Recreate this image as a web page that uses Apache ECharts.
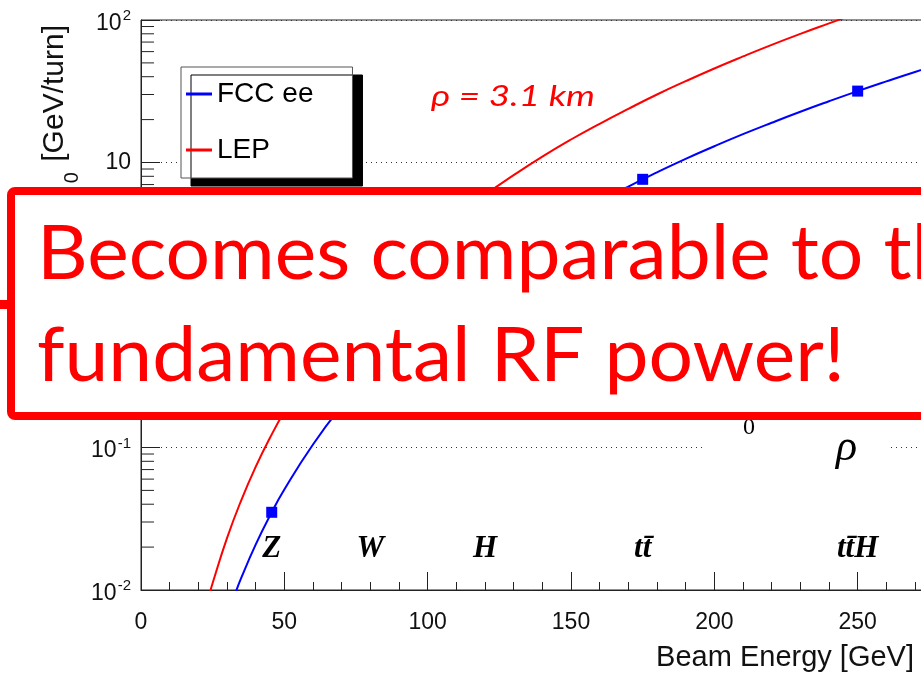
<!DOCTYPE html>
<html><head><meta charset="utf-8">
<script src="https://cdn.jsdelivr.net/npm/echarts@6/dist/echarts.min.js"></script>
<style>html,body{margin:0;padding:0;background:#fff}#c{width:921px;height:676px}</style>
</head><body><div id="c"></div>
<script>
// ---- data ----
const lepEnergy = [24, 25, 30, 35, 40, 45, 50, 60, 70, 80, 90, 100, 110, 120, 130, 140, 150, 160, 170, 180, 190, 200, 210, 220, 230, 240, 250];
const lepLoss   = [0.0095, 0.0112, 0.0231, 0.0428, 0.0731, 0.117, 0.178, 0.370, 0.685, 1.17, 1.87, 2.85, 4.18, 5.92, 8.15, 11.0, 14.5, 18.7, 23.8, 30.0, 37.2, 45.7, 55.5, 66.9, 79.9, 94.7, 112];
const fccEnergy = [33, 35, 40, 45, 50, 60, 70, 80, 90, 100, 110, 120, 130, 140, 150, 160, 170, 180, 190, 200, 210, 220, 230, 240, 250, 260, 270, 280, 290, 300];
const fccLoss   = [0.0096, 0.0122, 0.0208, 0.0333, 0.0507, 0.105, 0.195, 0.333, 0.533, 0.812, 1.19, 1.68, 2.32, 3.12, 4.11, 5.32, 6.78, 8.52, 10.6, 13.0, 15.8, 19.0, 22.7, 26.9, 31.7, 37.1, 43.2, 49.9, 57.4, 65.8];
const markerEnergy = [45.6, 80, 120, 175, 250];
const markerLoss   = [0.0351, 0.333, 1.68, 7.62, 31.7];
const processNames = ['Z', 'W', 'H', 't t\u0304', 't t\u0304H'];
const processEnergy = [45.6, 80, 120, 175, 250];
const processLabelLoss = 0.0193;
const yTickValues = [0.01, 0.1, 1, 10, 100];
const yTickBase   = ['10', '10', '1', '10', '10'];
const yTickExp    = ['-2', '-1', '', '', '2'];
const yMinorTicks = [0.02,0.03,0.04,0.05,0.06,0.07,0.08,0.09, 0.2,0.3,0.4,0.5,0.6,0.7,0.8,0.9, 2,3,4,5,6,7,8,9, 20,30,40,50,60,70,80,90];
const seriesNames = ['FCC ee', 'LEP'];
const calloutLines = ['Becomes comparable to the', 'fundamental RF power!'];
const radiusText = '\u03c1 = 3.1 km';

const mctx = document.createElement('canvas').getContext('2d');
function fit(text, font, target) { mctx.font = font; return target / mctx.measureText(text).width; }

const boxFont = '76px Lato';
const boxScale = fit(calloutLines[1], boxFont, 808);
const rhoFont = 'italic 29px Lato';
const rhoScale = fit(radiusText, rhoFont, 164);

const chart = echarts.init(document.getElementById('c'), null, {renderer: 'canvas'});

function yLabel(v) {
  const lv = Math.log10(v);
  const i = yTickValues.findIndex(t => Math.abs(Math.log10(t) - lv) < 1e-6);
  if (i < 0) return '';
  if (yTickExp[i] === '') return '{p|' + yTickBase[i] + '}';
  return '{b|' + yTickBase[i] + '}{s|' + yTickExp[i] + '}';
}

const option = {
  animation: false,
  backgroundColor: '#fff',
  grid: {left: 141, top: 20, width: 860, height: 570, show: true, borderColor: '#222', borderWidth: 1,
         containLabel: false, outerBoundsMode: 'none'},
  legend: {
    orient: 'vertical', left: 181, top: 67,
    data: seriesNames,
    icon: 'rect', itemWidth: 26, itemHeight: 3, itemGap: 28,
    padding: [13, 39, 14, 5],
    backgroundColor: '#fff', borderColor: '#555', borderWidth: 1,
    shadowColor: '#000', shadowBlur: 0, shadowOffsetX: 10, shadowOffsetY: 8,
    textStyle: {fontFamily: 'Liberation Sans', fontSize: 28, color: '#000'},
    selectedMode: false, z: 20
  },
  xAxis: {
    type: 'value', min: 0, max: 300, interval: 50,
    axisLine: {lineStyle: {color: '#222', width: 1}},
    axisTick: {inside: true, length: 18, lineStyle: {color: '#222'}},
    minorTick: {show: true, splitNumber: 5, length: 8, lineStyle: {color: '#222'}},
    axisLabel: {fontFamily: 'Liberation Sans', fontSize: 23, color: '#111', margin: 21},
    splitLine: {show: false}
  },
  yAxis: {
    type: 'log', logBase: 10, min: 0.01, max: 100,
    axisLine: {show: true, lineStyle: {color: '#222', width: 1}},
    axisTick: {show: true, inside: true, length: 19, lineStyle: {color: '#222'}},
    minorTick: {show: false},
    axisLabel: {
      margin: 10, formatter: yLabel,
      rich: {
        p: {fontFamily: 'Liberation Sans', fontSize: 23, color: '#111'},
        b: {fontFamily: 'Liberation Sans', fontSize: 23, color: '#111', lineHeight: 18, padding: [7, 0, 0, 0]},
        s: {fontFamily: 'Liberation Sans', fontSize: 15, color: '#111', lineHeight: 12, padding: [0, 0, 8, 1]}
      }
    },
    splitLine: {show: true, lineStyle: {color: '#333', width: 1, type: [1, 4]}}
  },
  series: [
    {name: seriesNames[0], type: 'line', data: fccEnergy.map((e, i) => [e, fccLoss[i]]),
     showSymbol: false, smooth: true, color: '#0000ff', lineStyle: {width: 2, color: '#0000ff'}, z: 3},
    {name: seriesNames[1], type: 'line', data: lepEnergy.map((e, i) => [e, lepLoss[i]]),
     showSymbol: false, smooth: true, color: '#ff0000', lineStyle: {width: 2, color: '#ff0000'}, z: 3},
    {name: 'markers', type: 'scatter', data: markerEnergy.map((e, i) => [e, markerLoss[i]]),
     symbol: 'rect', symbolSize: 11, itemStyle: {color: '#0000ff', opacity: 1}, z: 4},
    {name: 'processes', type: 'scatter', symbolSize: 0,
     data: processEnergy.map((e, i) => ({value: [e, processLabelLoss], name: processNames[i]})),
     label: {show: true, position: 'inside', formatter: p => p.name.replace(/ /g, ''),
       fontFamily: 'Liberation Serif', fontStyle: 'italic', fontWeight: 'bold', fontSize: 31, color: '#000',
       textBorderWidth: 0, opacity: 1}, itemStyle: {opacity: 1}, z: 4},
    {name: 'minorTicks', type: 'custom', data: yMinorTicks.map(v => [0, v]),
     encode: {x: 0, y: 1}, clip: false, silent: true, z: 5,
     renderItem: (params, api) => {
       const p = api.coord([0, api.value(1)]);
       return {type: 'line', shape: {x1: p[0], y1: p[1], x2: p[0] + 13, y2: p[1]}, style: {stroke: '#222', lineWidth: 1}};
     }}
  ],
  graphic: [
    {type: 'text', x: 55, y: 25, rotation: Math.PI / 2, z: 10,
     style: {text: '{m|U}{u|0}{m| [GeV/turn]}', align: 'right', verticalAlign: 'middle', textAlign: 'right', textVerticalAlign: 'middle',
       rich: {m: {fontFamily: 'Liberation Sans', fontSize: 30, lineHeight: 54, fill: '#111', color: '#111'},
              u: {fontFamily: 'Liberation Sans', fontSize: 20, lineHeight: 20, verticalAlign: 'bottom', padding: [0, 2, 0, 8], fill: '#111', color: '#111'}}}},
    {type: 'text', x: 914, y: 658, z: 10,
     style: {text: 'Beam Energy [GeV]', font: '29px Liberation Sans', fill: '#111', align: 'right', verticalAlign: 'middle', textAlign: 'right', textVerticalAlign: 'middle'}},
    {type: 'text', x: 431, y: 97, scaleX: rhoScale, z: 10,
     style: {text: radiusText, font: rhoFont, fill: '#ff0000', align: 'left', verticalAlign: 'middle', textAlign: 'left', textVerticalAlign: 'middle'}},
    // partially hidden formula
    {type: 'rect', shape: {x: 702, y: 416, width: 188, height: 80}, style: {fill: '#fff'}, z: 50},
    {type: 'text', x: 703, y: 430, z: 51,
     style: {text: 'U', font: 'italic 44px Liberation Serif', fill: '#000', align: 'left', verticalAlign: 'bottom', textAlign: 'left', textVerticalAlign: 'bottom'}},
    {type: 'text', x: 743, y: 440, z: 51,
     style: {text: '0', font: '24px Liberation Serif', fill: '#000', align: 'left', verticalAlign: 'bottom', textAlign: 'left', textVerticalAlign: 'bottom'}},
    {type: 'text', x: 836, y: 470, z: 51,
     style: {text: '\u03c1', font: 'italic 44px Liberation Serif', fill: '#000', align: 'left', verticalAlign: 'bottom', textAlign: 'left', textVerticalAlign: 'bottom'}},
    // callout box
    {type: 'rect', shape: {x: 11, y: 191, width: 1000, height: 225, r: 4}, style: {fill: '#fff', stroke: '#ff0000', lineWidth: 8}, z: 100},
    {type: 'rect', shape: {x: 0, y: 300, width: 12, height: 9}, style: {fill: '#ff0000'}, z: 100},
    {type: 'text', x: 37, y: 254, scaleX: boxScale, z: 101,
     style: {text: calloutLines[0], font: boxFont, fill: '#ff0000', align: 'left', verticalAlign: 'middle', textAlign: 'left', textVerticalAlign: 'middle'}},
    {type: 'text', x: 37, y: 356, scaleX: boxScale, z: 101,
     style: {text: calloutLines[1], font: boxFont, fill: '#ff0000', align: 'left', verticalAlign: 'middle', textAlign: 'left', textVerticalAlign: 'middle'}}
  ]
};
chart.setOption(option);
</script>
</body></html>
